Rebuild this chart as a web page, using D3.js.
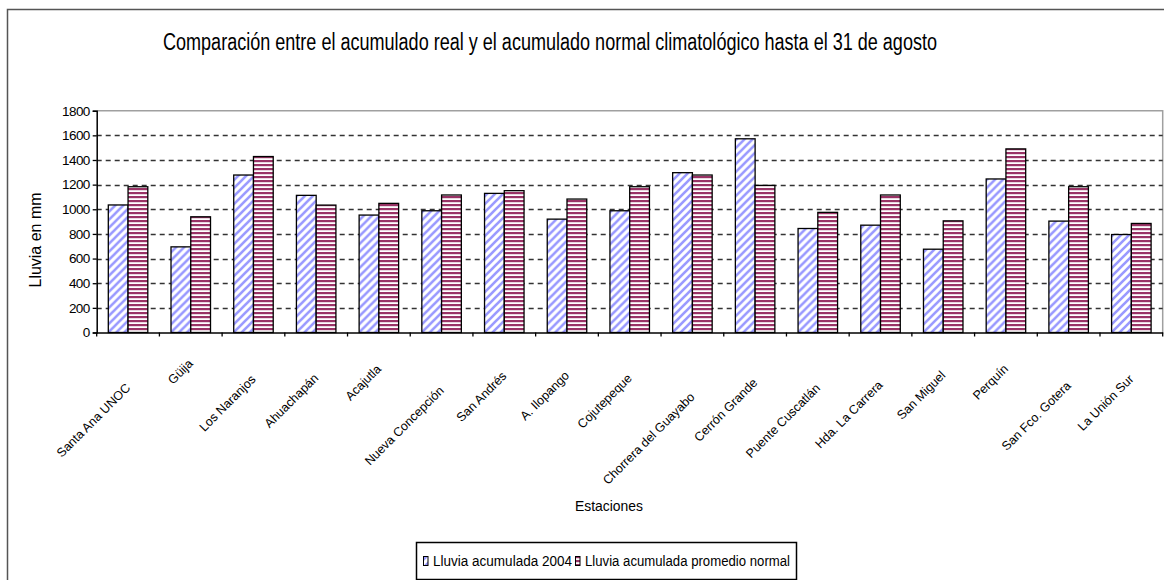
<!DOCTYPE html>
<html>
<head>
<meta charset="utf-8">
<script src="https://cdn.jsdelivr.net/npm/d3@7/dist/d3.min.js"></script>
<style>
  html, body { margin: 0; padding: 0; background: #fff; }
  svg { display: block; }
  text { font-family: "Liberation Sans Narrow", "Liberation Sans", Arial, sans-serif; fill: #000; }
</style>
</head>
<body>
<svg id="chart" width="1164" height="580"></svg>
<script>
const categories = ["Santa Ana UNOC", "Güija", "Los Naranjos", "Ahuachapán", "Acajutla",
  "Nueva Concepción", "San Andrés", "A. Ilopango", "Cojutepeque", "Chorrera del Guayabo",
  "Cerrón Grande", "Puente Cuscatlán", "Hda. La Carrera", "San Miguel", "Perquín",
  "San Fco. Gotera", "La Unión Sur"];
const real2004 = [1035, 695, 1278, 1113, 953, 988, 1129, 920, 988, 1297, 1572, 844, 871, 676, 1246, 904, 795];
const normal = [1183, 939, 1428, 1034, 1048, 1116, 1151, 1083, 1183, 1278, 1194, 975, 1116, 906, 1490, 1183, 885];
const seriesNames = ["Lluvia acumulada 2004", "Lluvia acumulada promedio normal"];
const yTicks = [0, 200, 400, 600, 800, 1000, 1200, 1400, 1600, 1800];
const titleText = "Comparación entre el acumulado real y el acumulado normal climatológico hasta el 31 de agosto";
const xTitle = "Estaciones";
const yTitle = "Lluvia en mm";

(function () {
const svg = d3.select("#chart");
const defs = svg.append("defs");

// patterns
const pBlue = defs.append("pattern").attr("id", "pBlue").attr("patternUnits", "userSpaceOnUse")
  .attr("width", 8).attr("height", 8);
pBlue.append("rect").attr("width", 8).attr("height", 8).attr("fill", "#fff");
pBlue.append("path").attr("d", "M-2,2 L2,-2 M0,8 L8,0 M6,10 L10,6")
  .attr("stroke", "#9999FF").attr("stroke-width", 2.6);
const pRed = defs.append("pattern").attr("id", "pRed").attr("patternUnits", "userSpaceOnUse")
  .attr("width", 4).attr("height", 4);
pRed.append("rect").attr("width", 4).attr("height", 4).attr("fill", "#fff");
pRed.append("rect").attr("y", 0).attr("width", 4).attr("height", 2.2).attr("fill", "#993366");
const fills = ["url(#pBlue)", "url(#pRed)"];

// outer chart border
svg.append("rect").attr("x", 7.5).attr("y", 9.5).attr("width", 1300).attr("height", 700)
  .attr("fill", "none").attr("stroke", "#555").attr("stroke-width", 1.5);

const pL = 96.7, pR = 1162.7, pT = 110.7, pB = 332.5;
const x0 = d3.scaleBand().domain(categories).range([pL, pR]).padding(0);
const x1 = d3.scaleBand().domain([0, 1]).range([x0.bandwidth() * 0.185, x0.bandwidth() * 0.815]).padding(0);
const y = d3.scaleLinear().domain([0, 1800]).range([pB, pT]);

// plot area border (gray)
svg.append("path")
  .attr("d", `M${pL},${y(1800)} H${pR} V${pB}`)
  .attr("fill", "none").attr("stroke", "#a0a0a0").attr("stroke-width", 1.5);

// gridlines
svg.append("g").selectAll("line").data(yTicks.filter(d => d > 0 && d < 1800)).join("line")
  .attr("x1", pL).attr("x2", pR)
  .attr("y1", d => Math.round(y(d)) + 0.5).attr("y2", d => Math.round(y(d)) + 0.5)
  .attr("stroke", "#333").attr("stroke-width", 1.6).attr("stroke-dasharray", "5,4");

// bars
const groups = svg.append("g").selectAll("g").data(categories).join("g")
  .attr("transform", d => `translate(${x0(d)},0)`);
groups.selectAll("rect").data((d, i) => [real2004[i], normal[i]]).join("rect")
  .attr("x", (d, j) => x1(j))
  .attr("width", x1.bandwidth())
  .attr("y", d => y(d))
  .attr("height", d => y(0) - y(d))
  .attr("fill", (d, j) => fills[j])
  .attr("stroke", "#000").attr("stroke-width", 1.3);

// y axis
const yAxis = d3.axisLeft(y).tickValues(yTicks).tickSize(4).tickPadding(3).tickFormat(d3.format("d"));
const gy = svg.append("g").attr("transform", `translate(${pL},0)`).call(yAxis);
gy.select(".domain").attr("stroke", "#000").attr("stroke-width", 1.5);
gy.selectAll(".tick line").attr("stroke", "#000").attr("stroke-width", 1.3);
gy.selectAll(".tick text").attr("font-size", "13.5px").attr("font-family", "Liberation Sans, Arial, sans-serif")
  .attr("letter-spacing", "-0.6px");

// x axis (ticks at category boundaries)
const xAxis = d3.axisBottom(x0).tickSize(0).tickFormat("");
const gx = svg.append("g").attr("transform", `translate(0,${pB})`).call(xAxis);
gx.select(".domain").attr("stroke", "#000").attr("stroke-width", 1.5);
svg.append("g").selectAll("line").data(categories.concat(["_end"])).join("line")
  .attr("x1", (d, i) => pL + i * x0.bandwidth()).attr("x2", (d, i) => pL + i * x0.bandwidth())
  .attr("y1", pB).attr("y2", pB + 4)
  .attr("stroke", "#000").attr("stroke-width", 1.3);

// category labels (rotated)
const labels = svg.append("g").selectAll("text").data(categories).join("text")
  .attr("font-size", "12.5px")
  .attr("text-anchor", "end")
  .text(d => d);
labels.each(function (d) {
  const L = this.getComputedTextLength();
  const cx = x0(d) + x0.bandwidth() / 2 + 3;
  const cy = 354 + 0.354 * L;
  d3.select(this).attr("transform", `translate(${cx},${cy}) rotate(-45)`);
});

// title
svg.append("text").attr("x", 550).attr("y", 50).attr("text-anchor", "middle")
  .attr("font-size", "23px").attr("textLength", 774).attr("lengthAdjust", "spacingAndGlyphs")
  .text(titleText);

// axis titles
svg.append("text").attr("x", 609).attr("y", 511).attr("text-anchor", "middle")
  .attr("font-size", "15px").attr("textLength", 68).attr("lengthAdjust", "spacingAndGlyphs")
  .text(xTitle);
svg.append("text").attr("transform", "translate(41,240) rotate(-90)").attr("text-anchor", "middle")
  .attr("font-size", "16px").attr("textLength", 95).attr("lengthAdjust", "spacingAndGlyphs")
  .text(yTitle);

// legend
const lg = svg.append("g");
lg.append("rect").attr("x", 416.5).attr("y", 542.5).attr("width", 380).attr("height", 37)
  .attr("fill", "#fff").attr("stroke", "#000").attr("stroke-width", 1.5);
const legendX = [423, 575];
const legendW = [139, 205];
const li = lg.selectAll("g").data(seriesNames).join("g")
  .attr("transform", (d, i) => `translate(${legendX[i]},0)`);
li.append("rect").attr("x", 0.5).attr("y", 556.5).attr("width", 4.5).attr("height", 9)
  .attr("fill", (d, i) => fills[i]).attr("stroke", "#000").attr("stroke-width", 1);
li.append("text").attr("x", 10).attr("y", 566).attr("font-size", "14px")
  .attr("textLength", (d, i) => legendW[i]).attr("lengthAdjust", "spacingAndGlyphs")
  .text(d => d);
})();
</script>
</body>
</html>
